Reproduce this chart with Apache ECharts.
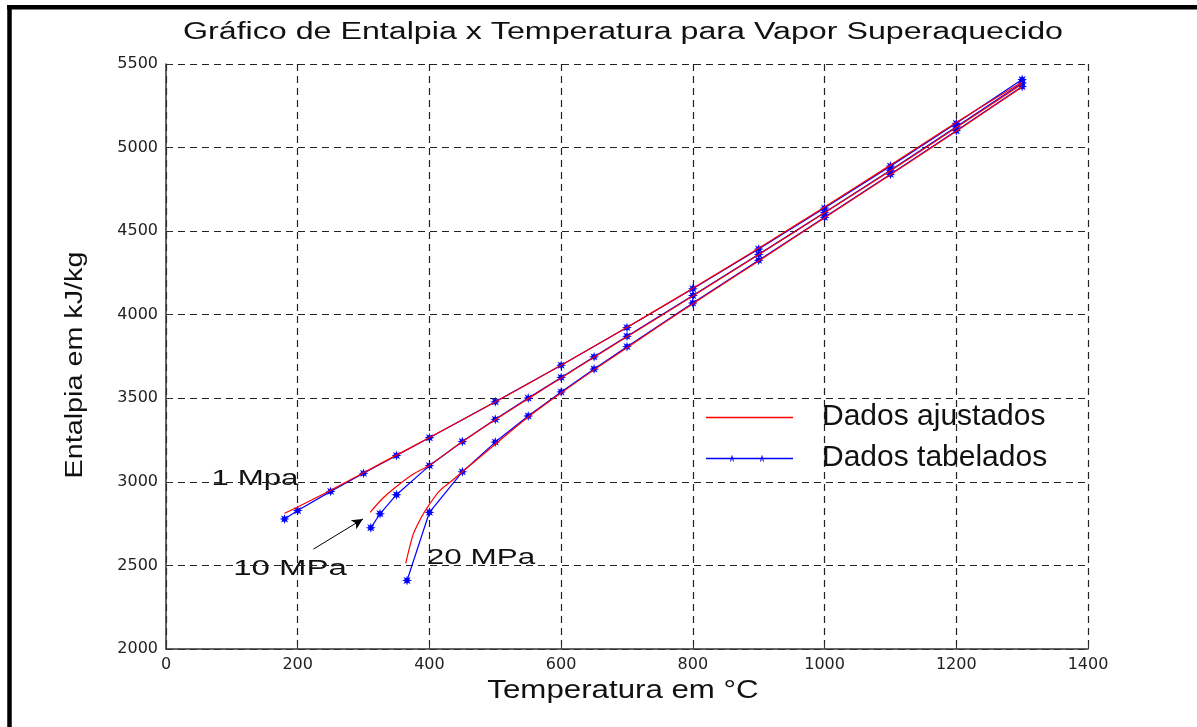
<!DOCTYPE html>
<html><head><meta charset="utf-8">
<script src="https://cdn.jsdelivr.net/npm/echarts@6/dist/echarts.min.js"></script>
<style>html,body{margin:0;padding:0;background:#fff}#c{width:1197px;height:727px}</style>
</head><body><div id="c"></div>
<script>
// Tick values
const xTicks = [0, 200, 400, 600, 800, 1000, 1200, 1400];
const yTicks = [2000, 2500, 3000, 3500, 4000, 4500, 5000, 5500];

// Tabulated data (Dados tabelados)
const tab1T  = [180, 200, 250, 300, 350, 400, 500, 600, 700, 800, 900, 1000, 1100, 1200, 1300];
const tab1H  = [2778, 2828, 2943, 3051, 3158, 3264, 3479, 3698, 3923, 4155, 4393, 4638, 4889, 5145, 5407];
const tab10T = [311, 325, 350, 400, 450, 500, 550, 600, 650, 700, 800, 900, 1000, 1100, 1200, 1300];
const tab10H = [2725, 2809, 2923, 3097, 3241, 3374, 3501, 3625, 3748, 3871, 4115, 4361, 4611, 4865, 5124, 5387];
const tab20T = [366, 400, 450, 500, 550, 600, 650, 700, 800, 900, 1000, 1100, 1200, 1300];
const tab20H = [2410, 2818, 3060, 3238, 3394, 3538, 3675, 3809, 4070, 4326, 4583, 4840, 5101, 5365];

// Fitted curves (Dados ajustados)
const fit1T  = [180, 200, 250, 300, 350, 400, 500, 600, 700, 800, 900, 1000, 1100, 1200, 1300];
const fit1H  = [2812, 2850, 2950, 3055, 3160, 3265, 3478, 3698, 3925, 4158, 4398, 4645, 4895, 5150, 5392];
const fit10T = [310, 330, 350, 375, 400, 450, 500, 550, 600, 650, 700, 800, 900, 1000, 1100, 1200, 1300];
const fit10H = [2818, 2905, 2972, 3045, 3100, 3240, 3372, 3498, 3622, 3745, 3868, 4112, 4360, 4610, 4862, 5120, 5380];
const fit20T = [364, 370, 376, 388, 400, 415, 435, 450, 500, 550, 600, 650, 700, 800, 900, 1000, 1100, 1200, 1300];
const fit20H = [2513, 2610, 2692, 2790, 2865, 2945, 3010, 3060, 3225, 3388, 3532, 3670, 3803, 4066, 4322, 4580, 4838, 5098, 5362];

// Annotation arrow (data coordinates)
const arrowFrom = [224, 2598];
const arrowTo   = [299, 2778];

const zip = (a, b) => a.map((v, i) => [v, b[i]]);
const STAR = 'path://M5,0 L2.2,0.9 L3.54,3.54 L0.9,2.2 L0,5 L-0.9,2.2 L-3.54,3.54 L-2.2,0.9 L-5,0 L-2.2,-0.9 L-3.54,-3.54 L-0.9,-2.2 L0,-5 L0.9,-2.2 L3.54,-3.54 L2.2,-0.9 Z';
const FONT = 'Liberation Sans, Arial, sans-serif';

function fitSeries(T, H) {
  return { name: 'Dados ajustados', type: 'line', data: zip(T, H), smooth: 0.3,
    showSymbol: false, symbol: 'none', z: 4,
    lineStyle: { color: '#ff0000', width: 1.2 }, itemStyle: { color: '#ff0000' } };
}
function tabSeries(T, H, extra) {
  return Object.assign({ name: 'Dados tabelados', type: 'line', data: zip(T, H),
    symbol: STAR, symbolSize: 10, z: 3,
    lineStyle: { color: '#0000ff', width: 1.2 }, itemStyle: { color: '#0000ff', borderWidth: 0 } }, extra || {});
}

const plainLabel = { color: '#222', fontFamily: 'DejaVu Sans', fontSize: 16, formatter: v => String(v) };

const chart = echarts.init(document.getElementById('c'), null, { renderer: 'canvas' });
chart.setOption({
  animation: false,
  backgroundColor: '#ffffff',
  grid: { left: 166, right: 109, top: 64, bottom: 78 },
  xAxis: {
    type: 'value', min: xTicks[0], max: xTicks[xTicks.length - 1], interval: xTicks[1] - xTicks[0],
    axisLine: { show: true, lineStyle: { color: '#333', width: 1.5 } },
    axisTick: { show: true, inside: true, length: 5, lineStyle: { color: '#333' } },
    axisLabel: Object.assign({ margin: 8 }, plainLabel),
    splitLine: { show: true, lineStyle: { color: '#222', type: [7, 5], width: 1.2 } }
  },
  yAxis: {
    type: 'value', min: yTicks[0], max: yTicks[yTicks.length - 1], interval: yTicks[1] - yTicks[0],
    axisLine: { show: true, lineStyle: { color: '#333', width: 1.5 } },
    axisTick: { show: true, inside: true, length: 5, lineStyle: { color: '#333' } },
    axisLabel: Object.assign({ margin: 8 }, plainLabel),
    splitLine: { show: true, lineStyle: { color: '#222', type: [7, 5], width: 1.2 } }
  },
  legend: {
    orient: 'vertical', left: 701, top: 397, itemGap: 11, itemWidth: 87, itemHeight: 14,
    selectedMode: false,
    itemStyle: { borderWidth: 0 },
    textStyle: { fontFamily: FONT, fontSize: 30, color: '#111', padding: [0, 0, 0, 24] },
    data: [
      { name: 'Dados ajustados', icon: 'path://M0,4.3H87V5.7H0Z M0,1 L0,1 Z M0,8 L0,8 Z', itemStyle: { color: '#ff0000' } },
      { name: 'Dados tabelados', icon: 'path://M0,4.3H87V5.7H0Z M24,8 L26,1 L28,8 L27,8 L26,4.5 L25,8 Z M54,8 L56,1 L58,8 L57,8 L56,4.5 L55,8 Z', itemStyle: { color: '#0000ff' } }
    ]
  },
  series: [
    tabSeries(tab1T, tab1H),
    tabSeries(tab10T, tab10H, {
      markLine: { silent: true, symbol: ['none', 'arrow'], symbolSize: [8, 11],
        lineStyle: { color: '#000', width: 1, type: 'solid' }, label: { show: false },
        data: [[{ coord: arrowFrom }, { coord: arrowTo }]] }
    }),
    tabSeries(tab20T, tab20H),
    fitSeries(fit1T, fit1H),
    fitSeries(fit10T, fit10H),
    fitSeries(fit20T, fit20H)
  ],
  graphic: [
    { type: 'line', shape: { x1: 7, y1: 7.3, x2: 1197, y2: 7.3 }, style: { stroke: '#000', lineWidth: 4.5 }, silent: true },
    { type: 'line', shape: { x1: 9.5, y1: 5, x2: 9.5, y2: 727 }, style: { stroke: '#000', lineWidth: 4.5 }, silent: true },
    { type: 'text', x: 623, y: 33, scaleX: 1.40, style: { text: 'Gráfico de Entalpia x Temperatura para Vapor Superaquecido', font: '23px ' + FONT, fill: '#111', textAlign: 'center', textVerticalAlign: 'middle' } },
    { type: 'text', x: 623, y: 691, scaleX: 1.25, style: { text: 'Temperatura em °C', font: '25px ' + FONT, fill: '#111', textAlign: 'center', textVerticalAlign: 'middle' } },
    { type: 'text', x: 76, y: 365, rotation: Math.PI / 2, scaleX: 1.25, style: { text: 'Entalpia em kJ/kg', font: '23px ' + FONT, fill: '#111', textAlign: 'center', textVerticalAlign: 'middle' } },
    { type: 'text', x: 255, y: 479, scaleX: 1.42, style: { text: '1 Mpa', font: '22px ' + FONT, fill: '#111', textAlign: 'center', textVerticalAlign: 'middle' } },
    { type: 'text', x: 290, y: 569, scaleX: 1.5, style: { text: '10 MPa', font: '22px ' + FONT, fill: '#111', textAlign: 'center', textVerticalAlign: 'middle' } },
    { type: 'text', x: 481, y: 558, scaleX: 1.43, style: { text: '20 MPa', font: '22px ' + FONT, fill: '#111', textAlign: 'center', textVerticalAlign: 'middle' } }
  ]
});
</script></body></html>
